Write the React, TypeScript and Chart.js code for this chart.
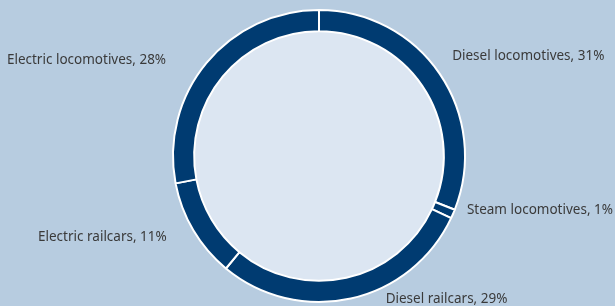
import React, { useEffect, useRef } from "react";
import { Chart, registerables } from "chart.js";

Chart.register(...registerables);

const categories = [
  "Diesel locomotives",
  "Steam locomotives",
  "Diesel railcars",
  "Electric railcars",
  "Electric locomotives",
];
const shares = [31, 1, 29, 11, 28];

// label placement: angle (deg, clockwise from top) and distance as fraction of outer radius
const labelAngles = [53, 110, 155, 242, 302];
const labelDistances = [1.142, 1.078, 1.08, 1.181, 1.235];

const BG = "#b7cce0";
const NAVY = "#003b71";
const INNER = "#dce6f2";
const TEXT = "#3a3a3a";

const innerFill = {
  id: "innerFill",
  beforeDatasetsDraw(chart: any) {
    const arc = chart.getDatasetMeta(0).data[0];
    if (!arc) return;
    const { x, y, innerRadius } = arc.getProps(["x", "y", "innerRadius"], true);
    const ctx = chart.ctx;
    ctx.save();
    ctx.fillStyle = INNER;
    ctx.beginPath();
    ctx.arc(x, y, innerRadius, 0, Math.PI * 2);
    ctx.fill();
    ctx.restore();
  },
};

const outsideLabels = {
  id: "outsideLabels",
  afterDatasetsDraw(chart: any) {
    const meta = chart.getDatasetMeta(0);
    const ctx = chart.ctx;
    ctx.save();
    ctx.font = "13.5px 'Noto Sans'";
    ctx.fillStyle = TEXT;
    ctx.textBaseline = "middle";
    meta.data.forEach((arc: any, i: number) => {
      const { x, y, outerRadius } = arc.getProps(["x", "y", "outerRadius"], true);
      const a = (labelAngles[i] * Math.PI) / 180;
      const d = outerRadius * labelDistances[i];
      const lx = x + d * Math.sin(a);
      const ly = y - d * Math.cos(a);
      ctx.textAlign = Math.sin(a) >= 0 ? "left" : "right";
      ctx.fillText(`${categories[i]}, ${shares[i]}%`, lx, ly);
    });
    ctx.restore();
  },
};

export default function App() {
  const ref = useRef<HTMLCanvasElement>(null);
  useEffect(() => {
    document.body.style.margin = "0";
    const chart = new Chart(ref.current!, {
      type: "doughnut",
      data: {
        labels: categories,
        datasets: [
          {
            data: shares,
            backgroundColor: NAVY,
            borderColor: "#ffffff",
            borderWidth: 2,
            hoverOffset: 0,
          },
        ],
      },
      options: {
        animation: false,
        responsive: false,
        cutout: "85.5%",
        layout: { padding: { left: 172, right: 149, top: 9, bottom: 3 } },
        plugins: { legend: { display: false }, tooltip: { enabled: false } },
      },
      plugins: [innerFill, outsideLabels],
    });
    return () => chart.destroy();
  }, []);
  return (
    <div style={{ position: "absolute", left: 0, top: 0, width: 615, height: 306, background: BG }}>
      <canvas ref={ref} width={615} height={306} style={{ display: "block" }} />
    </div>
  );
}
